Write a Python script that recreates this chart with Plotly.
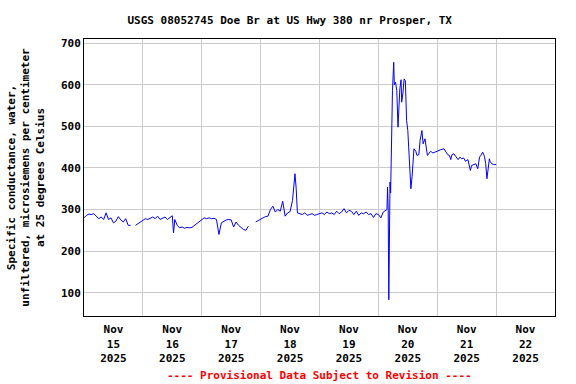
import pandas as pd
import plotly.graph_objects as go

# hours since 2025-11-15 00:00 (local), specific conductance (uS/cm)
hours = [
    0, 1, 2, 3, 4, 5, 6, 7, 8, 9, 10, 11, 12, 13, 14, 15, 16, 17, 18, 19, 20, 21, 22, 23,
    24, 25, 26, 27, 28, 29, 30, 31, 32, 33, 34, 35, 36, 36.5, 37, 38, 39, 40, 41, 42, 43, 44, 45, 46, 47,
    48, 49, 50, 51, 52, 53, 54, 55, 56, 57, 58, 59, 60, 61, 62, 63, 64, 65, 66, 67, 68, 70, 71,
    72, 73, 74, 75, 76, 77, 78, 79, 80, 81, 82, 83, 84, 85, 86, 86.5, 87, 88, 89, 90, 91, 92, 93, 94, 95,
    96, 97, 98, 99, 100, 101, 102, 103, 104, 105, 106, 107, 108, 109, 110, 111, 112, 113, 114, 115, 116, 117, 118, 119,
    120, 121, 122, 123, 123.5, 123.75, 124, 124.25, 124.5, 124.75, 125, 125.25, 125.5, 125.75, 126.25, 126.5,
    127, 127.5, 128, 128.25, 128.75, 129.25, 129.5, 130, 130.5, 131, 131.5, 132, 132.25, 132.75, 133.25, 133.75,
    134, 134.5, 135.25, 135.75, 136.5, 137, 137.75, 138.25, 139, 139.25, 140, 140.5, 141.25, 142.25, 143,
    144.25, 145.5, 146.75, 147.5, 148.25, 149, 149.5, 150, 150.75, 151.5, 152.5, 153.25, 154, 154.75, 155.5,
    156.5, 157, 157.5, 158, 159, 159.75, 160.5, 161.25, 161.75, 162.5, 163.25, 163.75, 164.25, 164.5, 165.25,
    165.5, 166.25, 167, 168,
]
values = [
    280, 286, 289, 288, 290, 284, 278, 282, 276, 292, 276, 280, 268, 272, 283, 275, 270, 278, 262, 262, None, 262, 266, 270,
    275, 278, 276, 280, 282, 278, 284, 276, 280, 282, 276, 280, 285, 244, 276, 262, 256, 258, 255, 257, 256, 257, 262, 266, 272,
    276, 280, 278, 280, 278, 279, 276, 240, 268, 272, 275, 276, 275, 258, 270, 262, 257, 252, 250, 260, None, 270, 274,
    276, 280, 283, 284, 300, 308, 294, 300, 296, 320, 284, 292, 295, 322, 386, 350, 292, 290, 288, 292, 286, 288, 290, 286, 288,
    290, 292, 288, 294, 290, 292, 288, 296, 290, 294, 302, 292, 298, 296, 288, 296, 286, 292, 290, 294, 288, 290, 281, 290,
    288, 280, 294, 298, 300, 354, 300, 83, 180, 366, 340, 466, 450, 586, 654, 600,
    606, 586, 498, 540, 590, 612, 558, 580, 614, 610, 514, 490, 466, 410, 350, 380,
    400, 446, 440, 430, 432, 466, 490, 458, 470, 460, 430, 434, 440, 436, 438,
    442, 444, 446, 440, 432, 430, 420, 432, 434, 428, 420, 426, 422, 424, 416,
    420, 410, 394, 406, 408, 410, 398, 426, 430, 438, 428, 410, 374, 390, 422,
    416, 410, 408, 408,
]

x_start = "2025-11-15 00:00"
x_end = "2025-11-23 00:00"
tick_days = ["2025-11-15", "2025-11-16", "2025-11-17", "2025-11-18",
             "2025-11-19", "2025-11-20", "2025-11-21", "2025-11-22"]
tick_text = ["Nov<br>15<br>2025", "Nov<br>16<br>2025", "Nov<br>17<br>2025", "Nov<br>18<br>2025",
             "Nov<br>19<br>2025", "Nov<br>20<br>2025", "Nov<br>21<br>2025", "Nov<br>22<br>2025"]
y_ticks = [100, 200, 300, 400, 500, 600, 700]

times = pd.Timestamp(x_start) + pd.to_timedelta(hours, unit="h")
tick_vals = [pd.Timestamp(d) + pd.Timedelta(hours=12) for d in tick_days]

FONT = "DejaVu Sans Mono"

fig = go.Figure()
fig.add_trace(go.Scatter(x=times, y=values, mode="lines",
                         line=dict(color="#0000FF", width=1),
                         connectgaps=False, showlegend=False))

fig.update_layout(
    width=576, height=384,
    margin=dict(l=84, r=21, t=39, b=68, autoexpand=False),
    paper_bgcolor="white", plot_bgcolor="white",
    font=dict(family=FONT, size=11, color="black", weight="bold"),
    title=dict(text="USGS 08052745 Doe Br at US Hwy 380 nr Prosper, TX",
               x=0.503, xref="container", xanchor="center",
               y=1 - 20 / 384, yref="container", yanchor="middle",
               font=dict(family=FONT, size=11, color="black", weight="bold")),
    xaxis=dict(
        type="date", automargin=False,
        range=[x_start, x_end],
        tickmode="array", tickvals=tick_vals, ticktext=tick_text,
        ticks="", showgrid=False, zeroline=False, ticklabelstandoff=3,
        showline=True, linecolor="black", linewidth=1, mirror=True,
        minor=dict(tickmode="linear", tick0=x_start, dtick=86400000,
                   showgrid=True, gridcolor="#CCCCCC", gridwidth=1, ticks=""),
        tickfont=dict(family=FONT, size=11, color="black", weight="bold"),
    ),
    yaxis=dict(
        automargin=False,
        range=[44, 710],
        tickmode="array", tickvals=y_ticks,
        ticks="", showgrid=True, gridcolor="#CCCCCC", gridwidth=1, zeroline=False,
        showline=True, linecolor="black", linewidth=1, mirror=True,
        tickfont=dict(family=FONT, size=11, color="black", weight="bold"),
        title=dict(text="Specific conductance, water,<br>unfiltered, microsiemens per centimeter<br>at 25 degrees Celsius",
                   font=dict(family=FONT, size=11, color="black", weight="bold"),
                   standoff=14),
    ),
    annotations=[dict(text="---- Provisional Data Subject to Revision ----",
                      xref="paper", yref="paper", x=0.5, y=-0.213,
                      xanchor="center", yanchor="middle", showarrow=False,
                      font=dict(family=FONT, size=11, color="#FF0000", weight="bold"))],
)

fig.write_html("out.html", config={"displayModeBar": False},
               post_script="document.body.style.margin='0';")
